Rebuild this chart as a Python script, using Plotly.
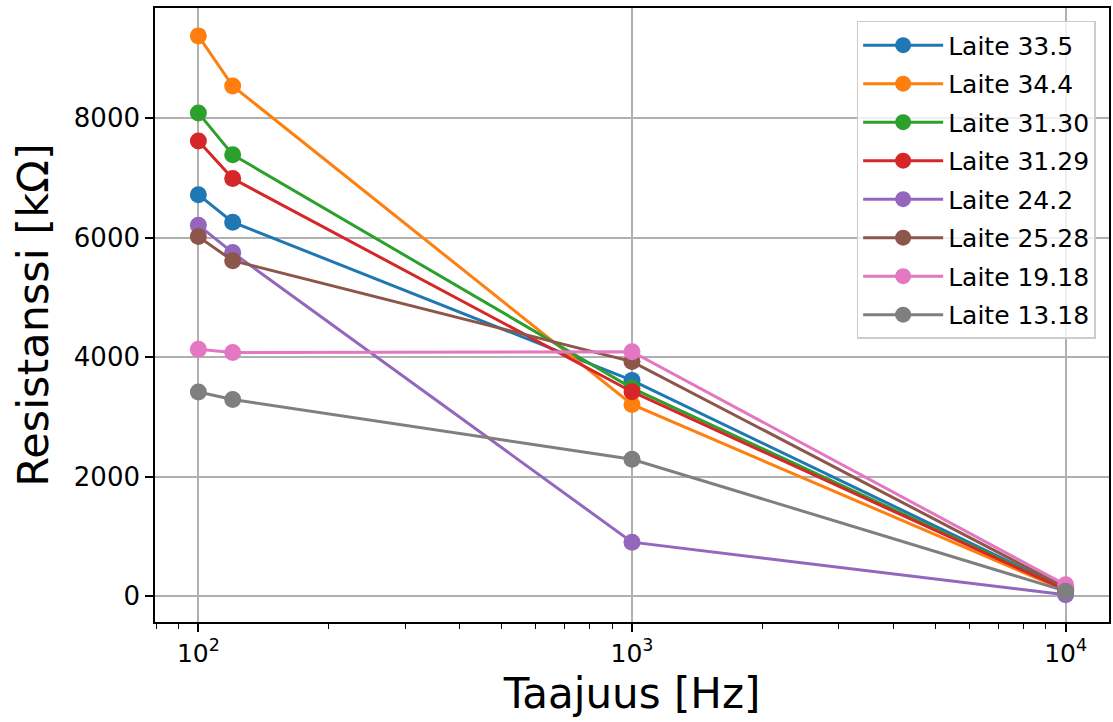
import plotly.graph_objects as go

freqs = [100, 120, 1000, 10000]
names = ["Laite 33.5", "Laite 34.4", "Laite 31.30", "Laite 31.29",
         "Laite 24.2", "Laite 25.28", "Laite 19.18", "Laite 13.18"]
laite_33_5 = [6720, 6260, 3610, 120]
laite_34_4 = [9380, 8540, 3206, 90]
laite_31_30 = [8090, 7390, 3480, 110]
laite_31_29 = [7620, 6990, 3420, 100]
laite_24_2 = [6210, 5750, 900, 20]
laite_25_28 = [6018, 5615, 3925, 140]
laite_19_18 = [4130, 4075, 4090, 185]
laite_13_18 = [3415, 3290, 2290, 80]
series = [laite_33_5, laite_34_4, laite_31_30, laite_31_29,
          laite_24_2, laite_25_28, laite_19_18, laite_13_18]
colors = ["#1f77b4", "#ff7f0e", "#2ca02c", "#d62728",
          "#9467bd", "#8c564b", "#e377c2", "#7f7f7f"]

x_tickvals = [100, 1000, 10000]
x_ticktext = ["10<sup>2</sup>", "10<sup>3</sup>", "10<sup>4</sup>"]
y_tickvals = [0, 2000, 4000, 6000, 8000]

FONT = "DejaVu Sans, Verdana, sans-serif"

fig = go.Figure()
for i, (name, vals, col) in enumerate(zip(names, series, colors)):
    fig.add_trace(go.Scatter(
        x=freqs, y=vals, name=name, mode="lines+markers",
        line=dict(color=col, width=3),
        marker=dict(color=col, size=17),
        legendgroup=f"g{i}",
    ))

minor_vals = [m * 10 ** e for e in (1, 2, 3) for m in range(2, 10)
              if 79 < m * 10 ** e < 12600]

fig.update_layout(
    width=1113, height=722,
    margin=dict(l=155, r=2, t=8, b=100),
    paper_bgcolor="white", plot_bgcolor="white",
    font=dict(family=FONT, color="black"),
    showlegend=True,
    legend=dict(
        x=0.986, y=0.979, xanchor="right", yanchor="top",
        bgcolor="rgba(255,255,255,0.8)", bordercolor="#cccccc", borderwidth=1.5,
        font=dict(size=25, family=FONT),
        traceorder="grouped", tracegroupgap=3,
        itemwidth=80,
    ),
    xaxis=dict(
        type="log", range=[1.9, 4.1],
        tickmode="array", tickvals=x_tickvals, ticktext=x_ticktext,
        ticks="outside", ticklen=8, tickwidth=1.6, tickcolor="black",
        tickfont=dict(size=25, family=FONT),
        showgrid=True, gridcolor="#b0b0b0", gridwidth=1.6,
        showline=True, linecolor="black", linewidth=1.6, mirror=True,
        minor=dict(tickmode="array", tickvals=minor_vals, ticks="outside",
                   ticklen=5, tickwidth=1.2, tickcolor="black", showgrid=False),
        title=dict(text="Taajuus [Hz]", font=dict(size=42, family=FONT), standoff=12),
        zeroline=False,
    ),
    yaxis=dict(
        range=[-437, 9847],
        tickmode="array", tickvals=y_tickvals, tickformat="d",
        ticks="outside", ticklen=8, tickwidth=1.6, tickcolor="black",
        tickfont=dict(size=26, family=FONT),
        showgrid=True, gridcolor="#b0b0b0", gridwidth=1.6,
        showline=True, linecolor="black", linewidth=1.6, mirror=True,
        title=dict(text="Resistanssi [kΩ]", font=dict(size=43, family=FONT), standoff=12),
        zeroline=False,
    ),
)

fig.write_html("out.html")
